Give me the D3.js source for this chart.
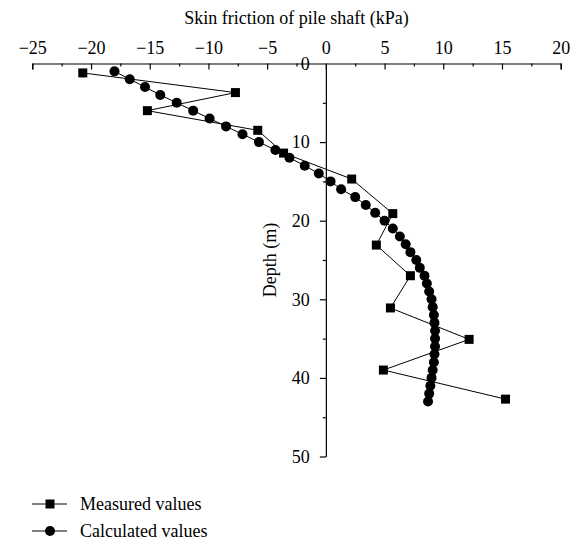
<!DOCTYPE html>
<html>
<head>
<meta charset="utf-8">
<script src="https://cdn.jsdelivr.net/npm/d3@7"></script>
<style>
  body { margin: 0; background: #fff; }
</style>
</head>
<body>
<script>
    var w = 583; //width of the SVG canvas
    var h = 543; //height of the SVG canvas

    // measured skin friction (kPa) and depth (m)
    var measuredFriction = [-20.7, -7.7, -15.2, -5.8, -3.6, 2.2, 5.7, 4.3, 7.2, 5.5, 12.2, 4.9, 15.3];
    var measuredDepth = [1.2, 3.7, 6.0, 8.5, 11.4, 14.7, 19.1, 23.1, 27.0, 31.1, 35.1, 39.0, 42.7];

    // calculated skin friction (kPa) and depth (m)
    var calcDepth = [1, 2, 3, 4, 5, 6, 7, 8, 9, 10, 11, 12, 13, 14, 15, 16, 17, 18, 19, 20, 21, 22,
                     23, 24, 25, 26, 27, 28, 29, 30, 31, 32, 33, 34, 35, 36, 37, 38, 39, 40, 41, 42, 43];
    var calcFriction = [-18.0, -16.7, -15.4, -14.1, -12.7, -11.3, -9.9, -8.5, -7.1, -5.7, -4.3, -3.1,
                        -1.8, -0.6, 0.4, 1.3, 2.5, 3.4, 4.2, 5.0, 5.7, 6.3, 6.8, 7.2, 7.7, 8.0, 8.4,
                        8.6, 8.8, 9.0, 9.1, 9.2, 9.25, 9.3, 9.3, 9.3, 9.25, 9.2, 9.1, 9.0, 8.9, 8.8, 8.7];

    var xTicks = [-25, -20, -15, -10, -5, 0, 5, 10, 15, 20];
    var yTicks = [0, 10, 20, 30, 40, 50];
    var legendLabels = ["Measured values", "Calculated values"];

    var measured = measuredFriction.map(function(v, i) { return [v, measuredDepth[i]]; });
    var calculated = calcFriction.map(function(v, i) { return [v, calcDepth[i]]; });

    var serif = '"Liberation Serif", "DejaVu Serif", serif';
    var fs = "18px";

    var xScale = d3.scaleLinear().domain([-25, 20]).range([32.3, 560.7]);
    var yScale = d3.scaleLinear().domain([0, 50]).range([63.5, 456.5]);

    var svg = d3.select("body").append("svg")
        .attr("width", w)
        .attr("height", h);

    // top x axis, ticks pointing down
    var xAxis = d3.axisTop(xScale)
        .tickValues(xTicks)
        .tickSize(-6)
        .tickPadding(10)
        .tickFormat(function(d) { return d < 0 ? "\u2212" + Math.abs(d) : d; });

    svg.append("g")
        .attr("transform", "translate(0," + yScale(0) + ")")
        .call(xAxis);

    // minor x ticks
    svg.append("g")
        .attr("transform", "translate(0," + yScale(0) + ")")
        .call(d3.axisTop(xScale).tickValues(d3.range(-22.5, 20, 5)).tickSize(-3).tickFormat(""))
        .select(".domain").remove();

    // left y axis at x = 0
    var yAxis = d3.axisLeft(yScale)
        .tickValues(yTicks)
        .tickSize(6)
        .tickSizeOuter(0)
        .tickPadding(10);

    var gy = svg.append("g")
        .attr("transform", "translate(" + xScale(0) + ",0)")
        .call(yAxis);
    gy.selectAll(".tick").filter(function(d) { return d === 0; }).select("line").remove();

    svg.append("g")
        .attr("transform", "translate(" + xScale(0) + ",0)")
        .call(d3.axisLeft(yScale).tickValues(d3.range(5, 50, 10)).tickSize(3).tickFormat(""))
        .select(".domain").remove();

    svg.selectAll(".domain, .tick line").attr("stroke", "#000").attr("stroke-width", 1.2);

    // axis titles
    svg.append("text")
        .attr("x", (xScale(-25) + xScale(20)) / 2)
        .attr("y", 24)
        .attr("text-anchor", "middle")
        .text("Skin friction of pile shaft (kPa)");

    svg.append("text")
        .attr("transform", "translate(276," + yScale(25) + ") rotate(-90)")
        .attr("text-anchor", "middle")
        .text("Depth (m)");

    var line = d3.line()
        .x(function(d) { return xScale(d[0]); })
        .y(function(d) { return yScale(d[1]); });

    // calculated series
    svg.append("path")
        .datum(calculated)
        .attr("d", line)
        .attr("fill", "none")
        .attr("stroke", "#000")
        .attr("stroke-width", 1);

    svg.selectAll("circle.calc")
        .data(calculated)
        .enter()
        .append("circle")
        .attr("class", "calc")
        .attr("cx", function(d) { return xScale(d[0]); })
        .attr("cy", function(d) { return yScale(d[1]); })
        .attr("r", 5)
        .attr("fill", "#000");

    // measured series
    svg.append("path")
        .datum(measured)
        .attr("d", line)
        .attr("fill", "none")
        .attr("stroke", "#000")
        .attr("stroke-width", 1);

    svg.selectAll("rect.meas")
        .data(measured)
        .enter()
        .append("rect")
        .attr("class", "meas")
        .attr("x", function(d) { return xScale(d[0]) - 4.5; })
        .attr("y", function(d) { return yScale(d[1]) - 4.5; })
        .attr("width", 9)
        .attr("height", 9)
        .attr("fill", "#000");

    // legend
    var legend = svg.selectAll("g.legend")
        .data(legendLabels)
        .enter()
        .append("g")
        .attr("class", "legend")
        .attr("transform", function(d, i) { return "translate(32," + (504 + i * 27) + ")"; });

    legend.append("line")
        .attr("x1", 0).attr("x2", 35)
        .attr("stroke", "#000").attr("stroke-width", 1);

    legend.filter(function(d, i) { return i === 0; })
        .append("rect")
        .attr("x", 13.5).attr("y", -4.5).attr("width", 9).attr("height", 9)
        .attr("fill", "#000");

    legend.filter(function(d, i) { return i === 1; })
        .append("circle")
        .attr("cx", 18).attr("r", 5)
        .attr("fill", "#000");

    legend.append("text")
        .attr("x", 48)
        .attr("dy", "0.33em")
        .text(function(d) { return d; });

    // every text in one serif face
    svg.selectAll("text")
        .style("font-family", serif)
        .style("font-size", fs)
        .style("fill", "#000");
</script>
</body>
</html>
